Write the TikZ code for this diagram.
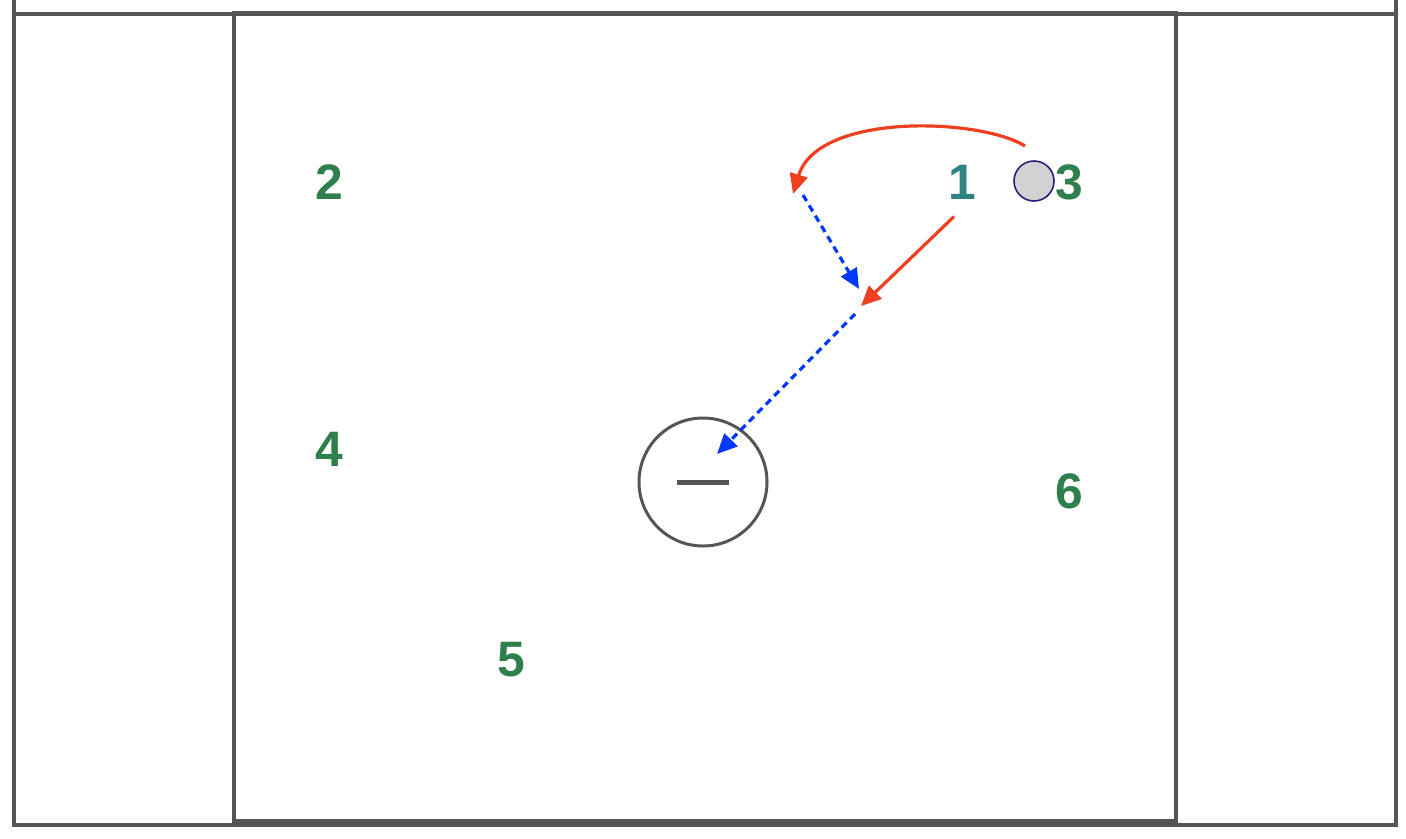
\documentclass[tikz,border=0pt]{standalone}
\usepackage{tikz}
\usepackage{xcolor}
\usepackage{fontspec}
\setmainfont{Liberation Sans}
\usetikzlibrary{arrows.meta}
\definecolor{lineColor}{HTML}{555555}
\definecolor{playerColorA}{HTML}{2E8483}
\definecolor{playerColorB}{HTML}{2F7F4C}
\definecolor{ballFillColor}{HTML}{D2D2D2}
\definecolor{ballDrawColor}{HTML}{2A1F7A}
\definecolor{runColor}{HTML}{EE4020}
\definecolor{passColor}{HTML}{0038FF}
\def\textA{1}
\def\textB{2}
\def\textC{3}
\def\textD{4}
\def\textE{5}
\def\textF{6}

\tikzset{
player/.style={inner sep=0pt, font=\fontsize{25}{25}\selectfont\bfseries, text=playerColorB},
run/.style={color=runColor, line width=1.6bp, -{Triangle[length=10bp,width=9bp]}},
pass/.style={color=passColor, line width=1.6bp, dash pattern=on 3.5bp off 2.5bp,
-{Triangle[length=10bp,width=9bp]}},
}

\begin{document}
\begin{tikzpicture}[x=0.5bp,y=-0.5bp]
\useasboundingbox (0, 0) rectangle (1406, 838);

% field layer
\begin{scope}[color=lineColor, line width=1.6bp]
\draw (14, -10) -- (14, 825) -- (1396, 825) -- (1396, -10);
\draw[line width=2.2bp] (14, 825) -- (1396, 825);
\draw (14, 14) -- (1396, 14);
\draw (234, 13) rectangle (1176, 821);
\end{scope}

% player layer
\begin{scope}
\node[player, text=playerColorA] (pA) at (962, 182) {\textA};
\node[player] (pB) at (329, 182) {\textB};
\node[player] (pC) at (1069, 182) {\textC};
\node[player] (pD) at (329, 449) {\textD};
\node[player] (pE) at (511, 660) {\textE};
\node[player] (pF) at (1069, 491) {\textF};
\node[circle, inner sep=0pt, minimum size=20bp, fill=ballFillColor,
draw=ballDrawColor, line width=0.8bp] (ball) at (1034, 181) {};
\node[circle, inner sep=0pt, minimum size=64bp, draw=lineColor,
line width=1.5bp] (goalie) at (703, 482) {\color{lineColor}\rule[-1.25bp]{26bp}{2.5bp}};
\end{scope}

% arrow ends
\coordinate (curveStart) at (1025, 146);
\coordinate (curveEnd) at (793, 194);
\coordinate (cutStart) at (803, 195);
\coordinate (cutEnd) at (859, 289);
\coordinate (runEnd) at (861, 306);
\coordinate (shotStart) at (855, 314);
\coordinate (shotEnd) at (717, 454);

% arrow layer
\begin{scope}
\draw[run] (curveStart) .. controls (980, 118) and (818, 112) .. (curveEnd);
\draw[run] (pA.south) ++(-8, 17) -- (runEnd);
\draw[pass] (cutStart) -- (cutEnd);
\draw[pass] (shotStart) -- (shotEnd);
\end{scope}

\end{tikzpicture}
\end{document}
